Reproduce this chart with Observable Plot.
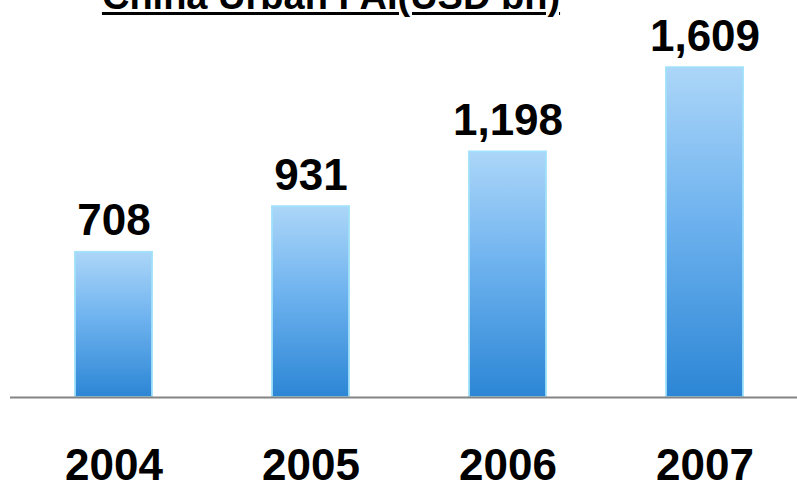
<!DOCTYPE html>
<html>
<head>
<meta charset="utf-8">
<script src="https://cdn.jsdelivr.net/npm/d3@7"></script>
<script src="https://cdn.jsdelivr.net/npm/@observablehq/plot@0.6"></script>
<style>
  html, body { margin: 0; padding: 0; background: #fff; overflow: hidden; }
  #wrap { position: relative; width: 797px; height: 488px; }
  #title {
    position: absolute; left: 0; top: -23px; width: 662px;
    text-align: center; font-family: "Liberation Sans", Arial, sans-serif;
    font-weight: bold; font-size: 38px; line-height: 38px; color: #000;
    text-decoration: underline; text-decoration-thickness: 3px; text-underline-offset: 3px;
    white-space: nowrap; z-index: 2;
  }
  svg { display: block; }
</style>
</head>
<body>
<div id="wrap">
  <div id="title">China Urban FAI(USD bn)</div>
  <div id="chart"></div>
</div>
<script>
const years = ["2004", "2005", "2006", "2007"];
const values = [708, 931, 1198, 1609];
const labels = ["708", "931", "1,198", "1,609"];

const data = years.map((y, i) => ({year: y, value: values[i], label: labels[i]}));

const defs = () => {
  const d = d3.create("svg:defs");
  const g = d.append("linearGradient").attr("id", "barGrad")
    .attr("x1", 0).attr("y1", 0).attr("x2", 0).attr("y2", 1);
  g.append("stop").attr("offset", "0%").attr("stop-color", "#acd6f8");
  g.append("stop").attr("offset", "45%").attr("stop-color", "#6fb3ef");
  g.append("stop").attr("offset", "100%").attr("stop-color", "#2c86d5");
  return d.node();
};

const chart = Plot.plot({
  width: 797,
  height: 488,
  marginLeft: 10,
  marginRight: 0,
  marginTop: 0,
  marginBottom: 91,
  style: {fontFamily: "'Liberation Sans', Arial, sans-serif", background: "transparent", overflow: "visible"},
  x: {domain: years, range: [14.5, 802.5], paddingInner: 0.61, paddingOuter: 0.305, label: null},
  y: {domain: [0, 1937], axis: null},
  marks: [
    defs,
    Plot.barY(data, {x: "year", y: "value", fill: "url(#barGrad)", stroke: "#9fe0fa", strokeWidth: 2, strokeOpacity: 0.9}),
    Plot.ruleY([0], {stroke: "#848484", strokeWidth: 2}),
    Plot.text(data, {x: "year", y: "value", text: "label", lineAnchor: "bottom", dy: -17,
      fontSize: 44, fontWeight: "bold", fill: "#000"}),
    Plot.axisX({tickSize: 0, tickPadding: 51, fontSize: 44, fontWeight: "bold", fill: "#000", label: null})
  ]
});
document.getElementById("chart").appendChild(chart);
</script>
</body>
</html>
